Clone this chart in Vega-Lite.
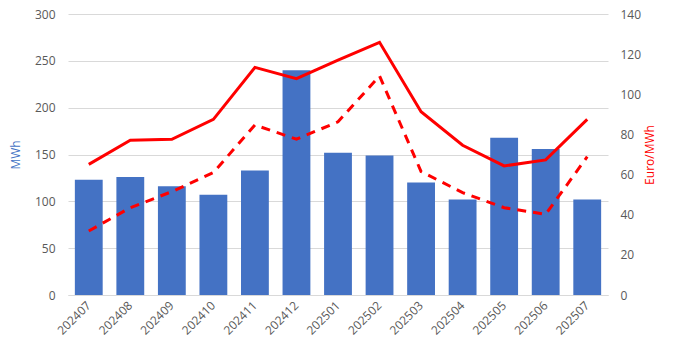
{
  "$schema": "https://vega.github.io/schema/vega-lite/v6.json",
  "width": 540,
  "height": 281,
  "autosize": "none",
  "padding": {"left": 68, "top": 14, "right": 69, "bottom": 56},
  "background": "white",
  "config": {
    "view": {"stroke": null},
    "font": "Open Sans",
    "axis": {"labelColor": "#595959", "labelFontSize": 12, "titleFontWeight": "normal", "titleFontSize": 12, "ticks": false, "domain": false, "grid": false}
  },
  "data": {
    "values": [
      {"month": "202407", "mwh": 123, "solid": 65.1, "dashed": 31.9},
      {"month": "202408", "mwh": 126, "solid": 77.1, "dashed": 43.5},
      {"month": "202409", "mwh": 116, "solid": 77.6, "dashed": 51.5},
      {"month": "202410", "mwh": 107, "solid": 87.5, "dashed": 61.0},
      {"month": "202411", "mwh": 133, "solid": 113.4, "dashed": 84.7},
      {"month": "202412", "mwh": 240, "solid": 107.8, "dashed": 77.6},
      {"month": "202501", "mwh": 152, "solid": 117.0, "dashed": 86.3},
      {"month": "202502", "mwh": 149, "solid": 125.9, "dashed": 109.1},
      {"month": "202503", "mwh": 120, "solid": 91.3, "dashed": 61.5},
      {"month": "202504", "mwh": 102, "solid": 74.6, "dashed": 51.0},
      {"month": "202505", "mwh": 168, "solid": 64.3, "dashed": 43.5},
      {"month": "202506", "mwh": 156, "solid": 67.3, "dashed": 40.2},
      {"month": "202507", "mwh": 102, "solid": 87.5, "dashed": 68.9}
    ]
  },
  "encoding": {
    "x": {
      "field": "month", "type": "nominal", "title": null,
      "scale": {"paddingInner": 0.33, "paddingOuter": 0.165},
      "axis": {"labelAngle": -45, "labelAlign": "right", "labelBaseline": "middle", "labelPadding": 8, "domain": true, "domainColor": "#d9d9d9", "labelFontSize": 12}
    }
  },
  "layer": [
    {
      "mark": {"type": "bar", "color": "#4472C4"},
      "encoding": {
        "y": {
          "field": "mwh", "type": "quantitative", "title": "MWh",
          "scale": {"domain": [0, 300]},
          "axis": {"values": [0, 50, 100, 150, 200, 250, 300], "grid": true, "gridColor": "#d9d9d9", "labelPadding": 13, "titleColor": "#4472C4", "titlePadding": 12}
        }
      }
    },
    {
      "layer": [
        {
          "mark": {"type": "line", "color": "#FF0000", "strokeWidth": 3},
          "encoding": {
            "y": {
              "field": "solid", "type": "quantitative", "title": "Euro/MWh",
              "scale": {"domain": [0, 140]},
              "axis": {"orient": "right", "values": [0, 20, 40, 60, 80, 100, 120, 140], "labelPadding": 12, "labelAlign": "left", "titleColor": "#FF0000", "titleAngle": -90, "titlePadding": 16}
            }
          }
        },
        {
          "mark": {"type": "line", "color": "#FF0000", "strokeWidth": 3, "strokeDash": [9, 7]},
          "encoding": {
            "y": {"field": "dashed", "type": "quantitative"}
          }
        }
      ]
    }
  ],
  "resolve": {"scale": {"y": "independent"}}
}
